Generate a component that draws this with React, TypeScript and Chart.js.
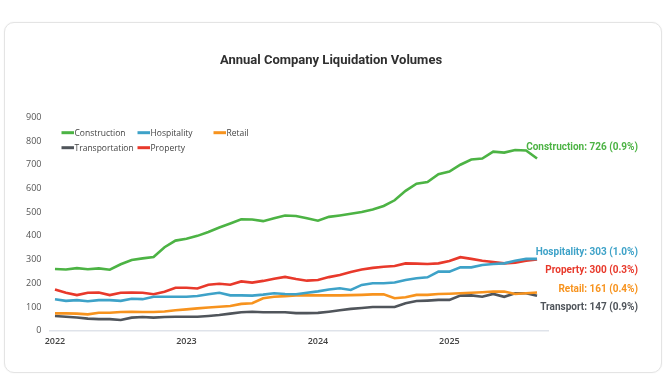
import { useEffect, useRef } from "react";
import { Chart, registerables } from "chart.js";

Chart.register(...registerables);

// Monthly points, Jan 2022 .. Sep 2025
const yearLabels = ["2022", "2023", "2024", "2025"];
const yearTickIndex = [0, 12, 24, 36];

const seriesNames = ["Construction", "Hospitality", "Retail", "Transportation", "Property"];
const seriesColors = ["#4cb344", "#3ea2c8", "#f7931e", "#50555b", "#e8392b"];

const construction = [260, 258, 264, 259, 263, 257, 280, 298, 305, 311, 352, 380, 388, 400, 416, 435, 452, 470, 469, 462, 474, 486, 484, 474, 464, 480, 486, 493, 501, 511, 526, 550, 590, 620, 627, 660, 671, 700, 722, 726, 755, 751, 762, 760, 726];
const hospitality = [133, 126, 129, 124, 129, 129, 126, 135, 133, 143, 143, 143, 143, 146, 154, 160, 149, 149, 148, 152, 158, 155, 154, 160, 166, 174, 179, 172, 193, 200, 200, 203, 214, 221, 225, 249, 249, 267, 267, 277, 281, 284, 295, 303, 303];
const retail = [73, 73, 72, 69, 76, 76, 79, 80, 79, 79, 81, 86, 90, 94, 98, 101, 104, 113, 116, 137, 143, 146, 149, 150, 149, 149, 149, 150, 151, 153, 154, 137, 141, 151, 151, 155, 156, 158, 160, 162, 165, 165, 155, 158, 161];
const transportation = [62, 59, 56, 51, 49, 49, 45, 55, 58, 55, 58, 59, 59, 59, 62, 66, 72, 78, 80, 78, 78, 78, 74, 74, 75, 80, 86, 92, 96, 100, 100, 100, 116, 125, 127, 130, 130, 148, 149, 143, 155, 143, 158, 158, 147];
const property = [174, 160, 150, 160, 161, 150, 160, 161, 160, 154, 164, 181, 181, 178, 194, 198, 194, 208, 203, 210, 219, 227, 218, 211, 214, 226, 235, 248, 258, 265, 270, 273, 284, 283, 281, 284, 294, 310, 303, 295, 290, 284, 287, 295, 300];

const allSeries = [construction, hospitality, retail, transportation, property];

// End labels
const endLabelNames = ["Construction", "Hospitality", "Retail", "Transport", "Property"];
const endLabelValues = [726, 303, 161, 147, 300];
const endLabelChanges = ["0.9%", "1.0%", "0.4%", "0.9%", "0.3%"];
const endLabelColors = ["#4cb344", "#3ea2c8", "#f7931e", "#50555b", "#e8392b"];
const endLabelOffsets = [-11.3, -6.6, -3.2, 11.4, 10.7];

const titleText = "Annual Company Liquidation Volumes";

export default function App() {
  const canvasRef = useRef<HTMLCanvasElement | null>(null);

  useEffect(() => {
    const canvas = canvasRef.current;
    if (!canvas) return;

    const overlay = {
      id: "overlay",
      afterDraw(chart: any) {
        const ctx = chart.ctx;
        const area = chart.chartArea;
        const yScale = chart.scales.y;
        ctx.save();
        // Title
        ctx.fillStyle = "#2f2f2f";
        ctx.font = "bold 13px Roboto";
        ctx.textAlign = "center";
        ctx.textBaseline = "middle";
        ctx.fillText(titleText, 331, 61);

        // Legend
        ctx.font = "8.5px 'Open Sans'";
        ctx.textAlign = "left";
        const colW = 76;
        const startX = area.left + 12;
        seriesNames.forEach((name, i) => {
          const row = Math.floor(i / 3);
          const col = i % 3;
          const x = startX + col * colW;
          const y = area.top + 15.4 + row * 15;
          ctx.strokeStyle = seriesColors[i];
          ctx.lineWidth = 3;
          ctx.beginPath();
          ctx.moveTo(x, y);
          ctx.lineTo(x + 12.5, y);
          ctx.stroke();
          ctx.fillStyle = "#444444";
          ctx.fillText(name, x + 13, y + 0.5);
        });

        // End labels
        ctx.font = "bold 10px Roboto";
        ctx.textAlign = "right";
        endLabelNames.forEach((name, i) => {
          const y = yScale.getPixelForValue(endLabelValues[i]) + endLabelOffsets[i];
          ctx.fillStyle = endLabelColors[i];
          ctx.fillText(`${name}: ${endLabelValues[i]} (${endLabelChanges[i]})`, area.right + 90, y);
        });
        ctx.restore();
      },
    };

    const chart = new Chart(canvas, {
      type: "line",
      data: {
        datasets: allSeries.map((s, i) => ({
          label: seriesNames[i],
          data: s.map((v, idx) => ({ x: idx, y: v })),
          borderColor: seriesColors[i],
          backgroundColor: seriesColors[i],
          borderWidth: 2.6,
          pointRadius: 0,
          tension: 0,
          fill: false,
        })),
      },
      options: {
        animation: false,
        responsive: false,
        maintainAspectRatio: false,
        layout: { padding: { left: 0, top: 117.3, right: 120, bottom: 34.3 } },
        plugins: {
          legend: { display: false },
          title: { display: false },
          tooltip: { enabled: false },
        },
        scales: {
          x: {
            type: "linear",
            min: -0.5,
            max: 45,
            afterBuildTicks: (scale: any) => {
              scale.ticks = yearTickIndex.map((v) => ({ value: v }));
            },
            afterFit: (scale: any) => {
              scale.height = 20;
            },
            grid: { display: false, drawTicks: false },
            border: { display: true, color: "#dfe3ea", width: 1.5 },
            ticks: {
              autoSkip: false,
              maxRotation: 0,
              padding: 5,
              color: "#444444",
              font: { family: "'Open Sans'", size: 9, weight: "600" },
              callback: (v: any) => {
                const k = yearTickIndex.indexOf(Number(v));
                return k >= 0 ? yearLabels[k] : "";
              },
            },
          },
          y: {
            min: 0,
            max: 900,
            afterFit: (scale: any) => {
              scale.width = 49.5;
            },
            grid: { display: false, drawTicks: false },
            border: { display: false },
            ticks: {
              stepSize: 100,
              padding: 8,
              color: "#555555",
              font: { family: "'Open Sans'", size: 9 },
            },
          },
        },
      },
      plugins: [overlay],
    });

    return () => chart.destroy();
  }, []);

  return (
    <div style={{ position: "fixed", left: 0, top: 0, width: 668, height: 385, background: "#ffffff" }}>
      <div
        style={{
          position: "absolute",
          left: 4,
          top: 22,
          width: 656,
          height: 349,
          border: "1px solid #e4e4e4",
          borderRadius: 10,
          boxShadow: "0 0 2px rgba(0,0,0,0.06)",
          background: "#ffffff",
        }}
      />
      <canvas
        ref={canvasRef}
        width={668}
        height={385}
        style={{ position: "absolute", left: 0, top: 0, width: 668, height: 385 }}
      />
    </div>
  );
}
